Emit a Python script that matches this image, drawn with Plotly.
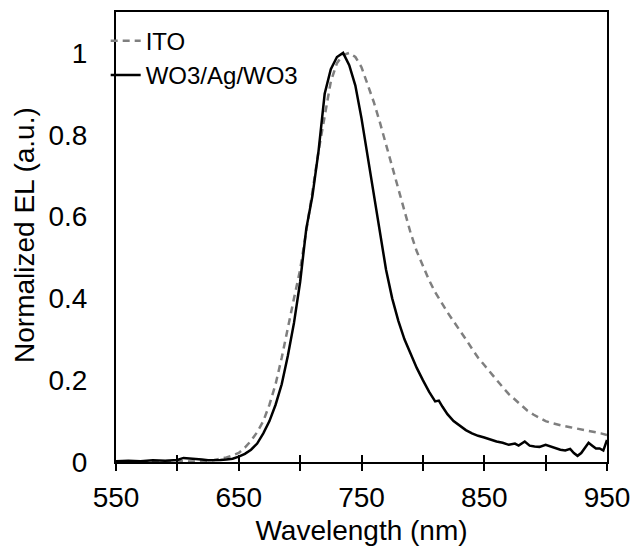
import plotly.graph_objects as go

# ITO (dashed grey)
ito_wl = [550, 560, 570, 580, 590, 600, 610, 620, 630, 640, 645, 650, 655, 660, 665, 670,
          675, 680, 685, 690, 695, 700, 705, 710, 715, 720, 725, 730, 735, 740, 745, 750,
          755, 760, 765, 770, 775, 780, 785, 790, 795, 800, 805, 810, 815, 820, 825, 830,
          835, 840, 845, 850, 855, 860, 865, 870, 875, 880, 885, 890, 895, 900, 905, 910,
          915, 920, 925, 930, 935, 940, 945, 950]
ito_el = [0.000, 0.002, 0.001, 0.002, 0.001, 0.002, 0.001, 0.002, 0.005, 0.011, 0.016, 0.022,
          0.035, 0.052, 0.073, 0.100, 0.140, 0.190, 0.255, 0.330, 0.400, 0.470, 0.560, 0.660,
          0.760, 0.845, 0.930, 0.975, 0.995, 1.000, 0.990, 0.965, 0.925, 0.880, 0.830, 0.775,
          0.720, 0.665, 0.610, 0.560, 0.515, 0.478, 0.445, 0.415, 0.390, 0.366, 0.344, 0.323,
          0.300, 0.277, 0.255, 0.237, 0.218, 0.200, 0.183, 0.166, 0.152, 0.138, 0.126, 0.116,
          0.107, 0.100, 0.095, 0.091, 0.088, 0.085, 0.082, 0.079, 0.077, 0.074, 0.070, 0.066]

# WO3/Ag/WO3 (solid black)
wag_wl = [550, 560, 570, 580, 590, 600, 605, 610, 615, 620, 625, 630, 635, 640, 645, 650,
          655, 660, 665, 670, 675, 680, 685, 690, 695, 700, 705, 710, 715, 720, 725, 730,
          735, 740, 745, 750, 755, 760, 765, 770, 775, 780, 785, 790, 795, 800, 805, 810,
          813, 816, 820, 825, 830, 835, 840, 845, 850, 855, 860, 865, 870, 875, 878, 883,
          887, 891, 895, 900, 904, 908, 912, 916, 920, 923, 926, 929, 932, 935, 938, 941,
          944, 947, 950]
wag_el = [0.002, 0.003, 0.002, 0.004, 0.003, 0.005, 0.010, 0.009, 0.008, 0.006, 0.004, 0.004,
          0.005, 0.006, 0.008, 0.013, 0.020, 0.030, 0.045, 0.070, 0.100, 0.140, 0.190, 0.260,
          0.340, 0.440, 0.570, 0.650, 0.760, 0.900, 0.960, 0.990, 1.000, 0.970, 0.920, 0.840,
          0.750, 0.660, 0.570, 0.470, 0.400, 0.345, 0.300, 0.265, 0.230, 0.200, 0.172, 0.148,
          0.150, 0.135, 0.117, 0.100, 0.088, 0.078, 0.070, 0.064, 0.060, 0.055, 0.050, 0.047,
          0.042, 0.045, 0.040, 0.050, 0.040, 0.038, 0.037, 0.042, 0.038, 0.035, 0.030, 0.028,
          0.032, 0.022, 0.015, 0.022, 0.035, 0.047, 0.040, 0.033, 0.033, 0.028, 0.054]

x_tickvals = [550, 600, 650, 700, 750, 800, 850, 900, 950]
x_ticktext = ["550", "", "650", "", "750", "", "850", "", "950"]
y_tickvals = [0, 0.2, 0.4, 0.6, 0.8, 1.0]
y_ticktext = ["0", "0.2", "0.4", "0.6", "0.8", "1"]
x_title = "Wavelength (nm)"
y_title = "Normalized EL (a.u.)"

FONT = "Liberation Sans, Arial, sans-serif"

fig = go.Figure()
fig.add_trace(go.Scatter(x=ito_wl, y=ito_el, mode="lines", name="ITO",
                         line=dict(color="#7f7f7f", width=2.5, dash="7px,5px")))
fig.add_trace(go.Scatter(x=wag_wl, y=wag_el, mode="lines", name="WO3/Ag/WO3",
                         line=dict(color="black", width=2.5)))
# helper trace for the inner half of the crossing x ticks
fig.add_trace(go.Scatter(x=[550], y=[0], xaxis="x2", mode="lines",
                         showlegend=False, hoverinfo="skip", line=dict(width=0)))

fig.update_layout(
    width=633, height=546,
    margin=dict(l=116, r=26, t=12, b=84, autoexpand=False),
    paper_bgcolor="white", plot_bgcolor="white",
    font=dict(family=FONT, size=28, color="black"),
    showlegend=True,
    legend=dict(x=-0.021, y=0.985, xanchor="left", yanchor="top",
                bgcolor="rgba(0,0,0,0)", font=dict(size=24),
                itemwidth=30, tracegroupgap=0),
    xaxis=dict(range=[550, 950], tickvals=x_tickvals, ticktext=x_ticktext,
               showgrid=False, zeroline=False, showline=True, linecolor="black",
               linewidth=2, mirror=True, ticks="outside", ticklen=7, tickwidth=2,
               tickcolor="black", automargin=False, ticklabelstandoff=2,
               title=dict(text=x_title, standoff=9, font=dict(size=28))),
    xaxis2=dict(range=[550, 950], overlaying="x", anchor="y", side="bottom",
                tickvals=x_tickvals, showticklabels=False, showgrid=False,
                zeroline=False, showline=False, ticks="inside", ticklen=7,
                tickwidth=2, tickcolor="black", automargin=False),
    yaxis=dict(range=[0, 1.1], tickvals=y_tickvals, ticktext=y_ticktext,
               showgrid=False, zeroline=False, showline=True, linecolor="black",
               linewidth=2, mirror=True, ticks="", ticklabelstandoff=21,
               automargin=False),
    annotations=[dict(text=y_title, textangle=-90, xref="paper", yref="paper",
                      x=-0.1864, y=0.5056, xanchor="center", yanchor="middle",
                      showarrow=False, font=dict(size=28))],
)

fig.write_html("out.html", post_script="document.body.style.margin='0';",
               config={"displayModeBar": False})
